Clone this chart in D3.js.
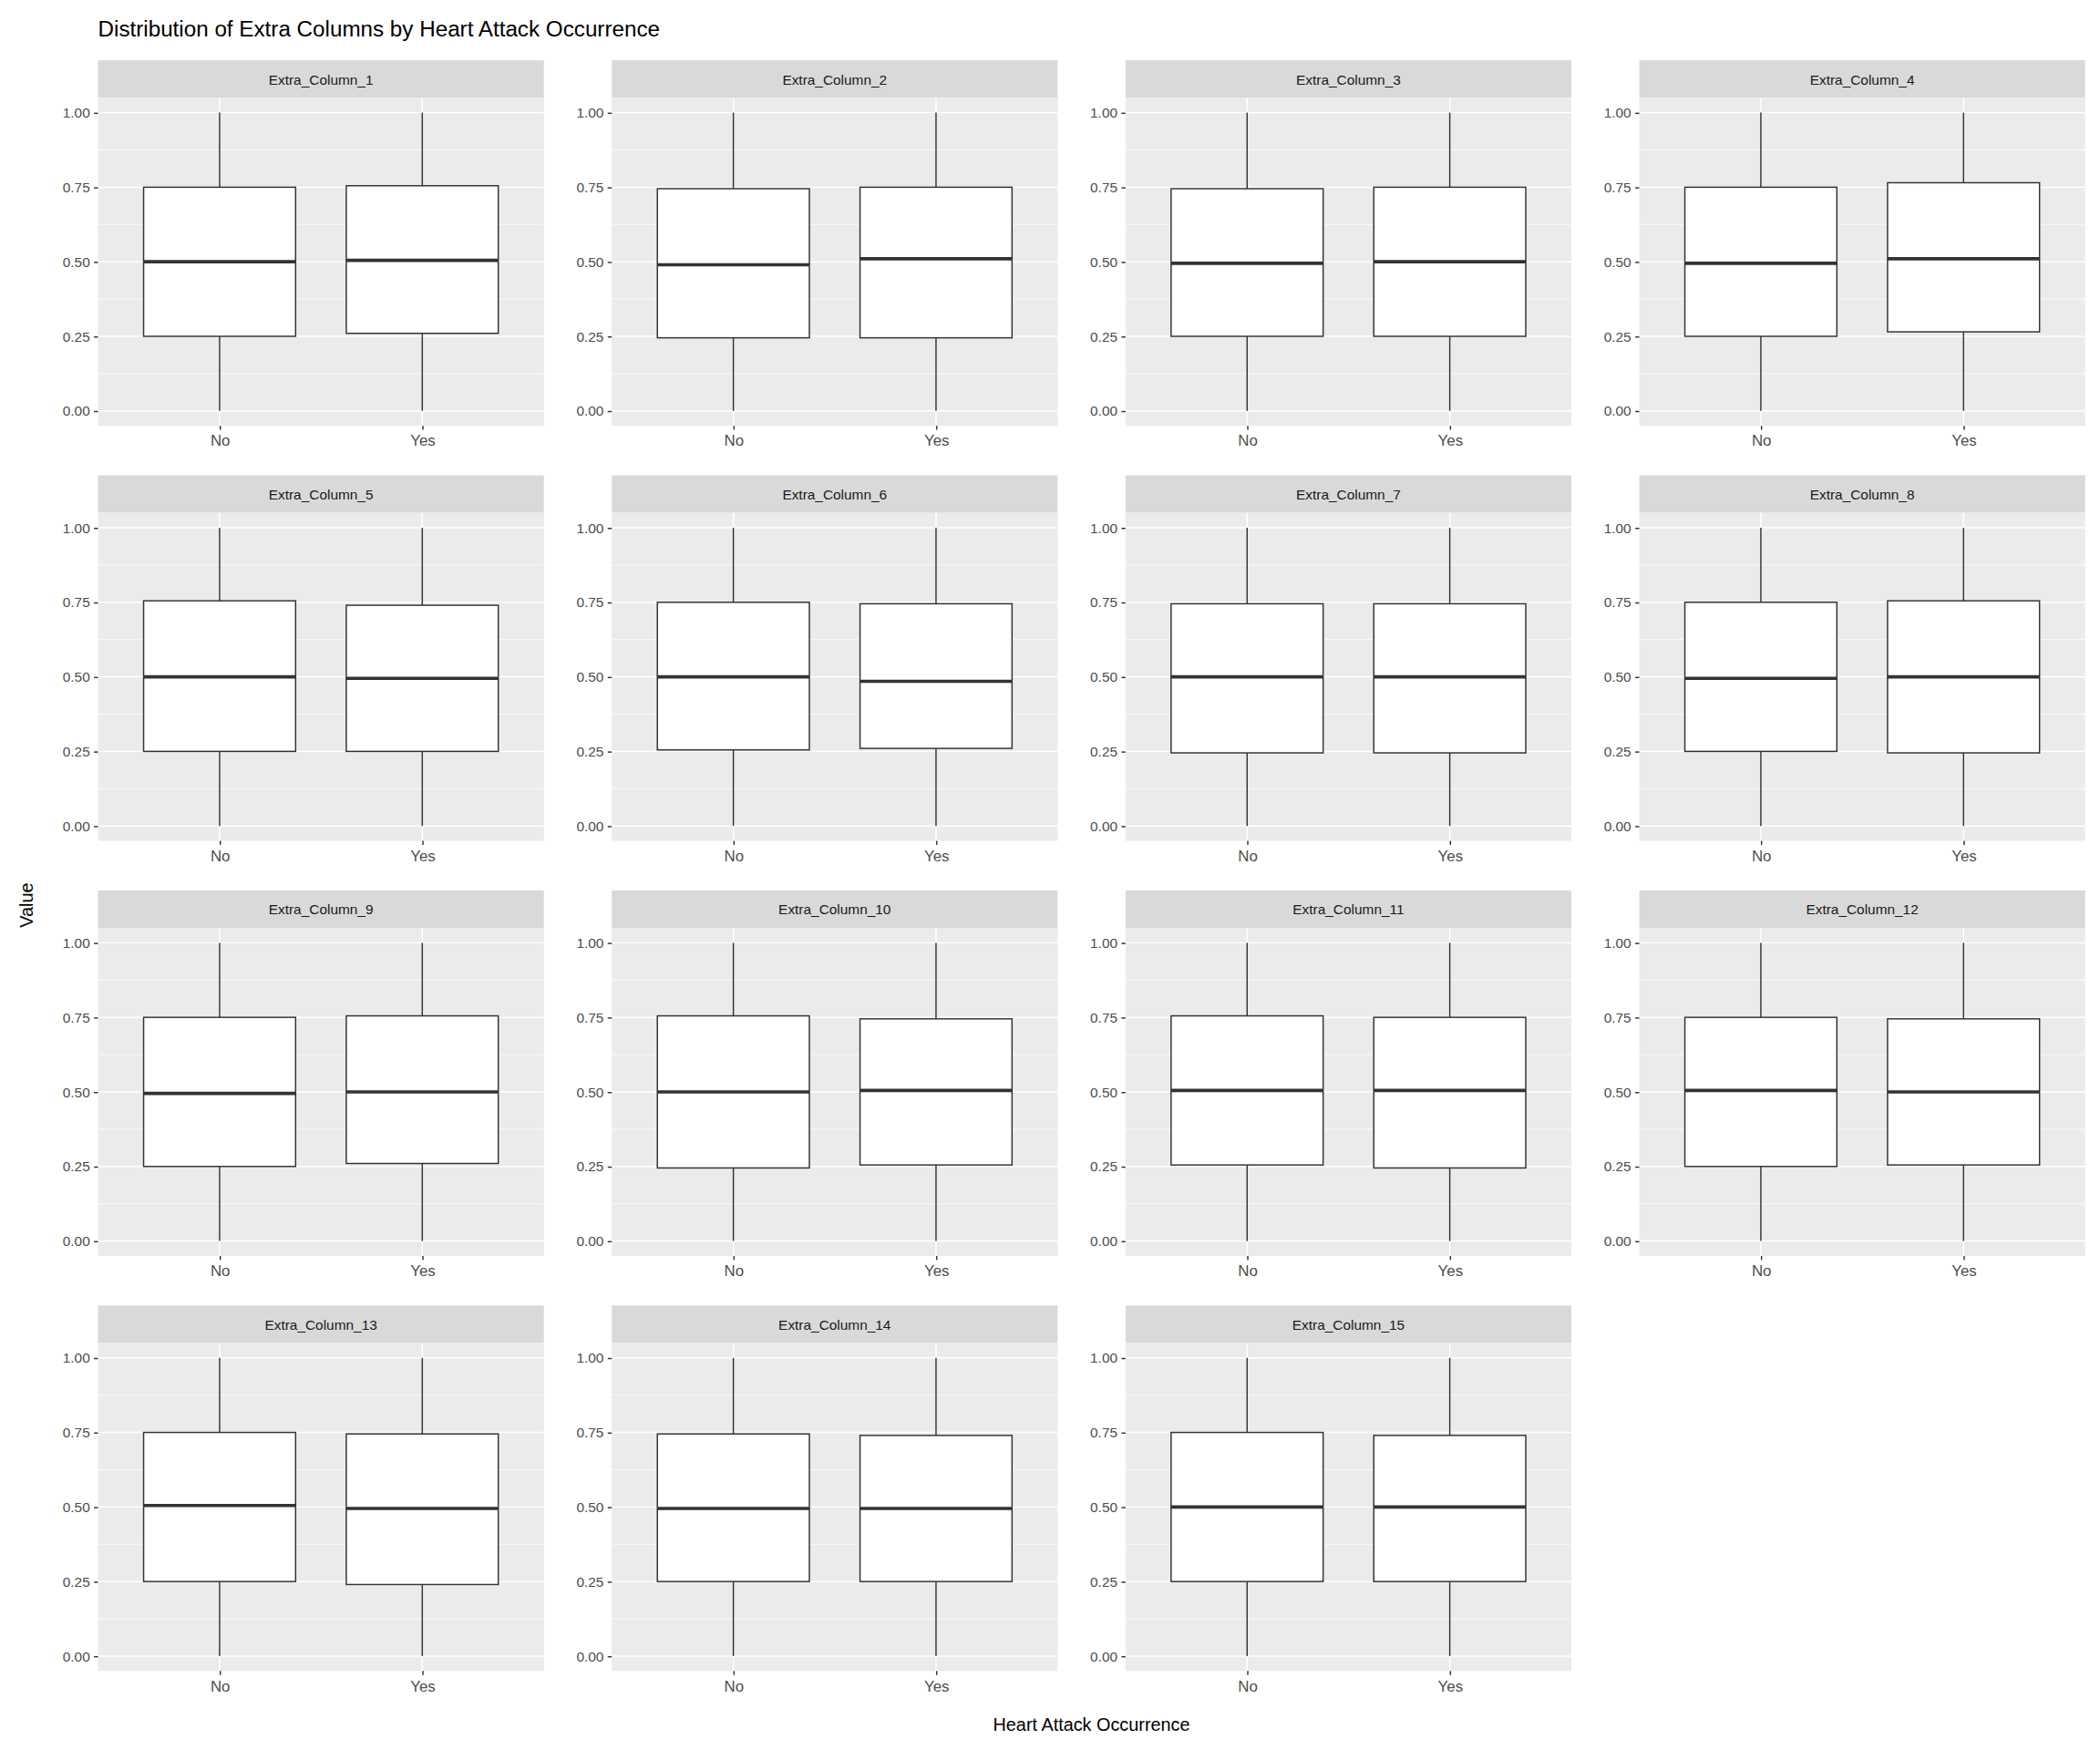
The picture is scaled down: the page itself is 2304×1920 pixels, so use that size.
<!DOCTYPE html>
<html>
<head>
<meta charset="UTF-8">
<script src="https://d3js.org/d3.v7.min.js"></script>
<style>body{margin:0;background:#fff} text{font-family:"Liberation Sans",Arial,sans-serif}</style>
</head>
<body>
<svg class="chart"></svg>
<script>
const panels = d3.range(1, 16).map(i => "Extra_Column_" + i);
const groups = ["No", "Yes"];
const yTicks = [0, 0.25, 0.5, 0.75, 1];
// [q1, median, q3] for No and Yes per panel; whiskers run 0 to 1
const noStats = [[.25,.50,.75],[.245,.49,.745],[.25,.495,.745],[.25,.495,.75],[.25,.50,.755],
  [.255,.50,.75],[.245,.50,.745],[.25,.495,.75],[.25,.495,.75],[.245,.50,.755],
  [.255,.505,.755],[.25,.505,.75],[.25,.505,.75],[.25,.495,.745],[.25,.50,.75]];
const yesStats = [[.26,.505,.755],[.245,.51,.75],[.25,.50,.75],[.265,.51,.765],[.25,.495,.74],
  [.26,.485,.745],[.245,.50,.745],[.245,.50,.755],[.26,.50,.755],[.255,.505,.745],
  [.245,.505,.75],[.255,.50,.745],[.24,.495,.745],[.25,.495,.74],[.25,.50,.74]];
const whiskerLo = 0, whiskerHi = 1;

const W = 1568, H = 1307;
const svg = d3.select(".chart").attr("width", 2304).attr("height", 1920)
  .attr("viewBox", `0 0 ${W} ${H}`);
svg.append("rect").attr("width", W).attr("height", H).attr("fill", "#fff");

const pw = 333, ph = 245, colPitch = 383.7, rowPitch = 310, left0 = 73, top0 = 73, stripH = 28;

svg.append("text").attr("x", 73).attr("y", 27).attr("font-size", 16.5).text("Distribution of Extra Columns by Heart Attack Occurrence");
svg.append("text").attr("x", 815).attr("y", 1293).attr("text-anchor", "middle").attr("font-size", 13.5).text("Heart Attack Occurrence");
svg.append("text").attr("transform", "translate(24,676)rotate(-90)").attr("text-anchor", "middle").attr("font-size", 13.5).text("Value");

const y = d3.scaleLinear().domain([-0.05, 1.05]).range([ph, 0]);
const x = d3.scaleLinear().domain([0.4, 2.6]).range([0, pw]);
const bw = (x(1.75) - x(1)) ;

panels.forEach((name, i) => {
  const c = i % 4, r = Math.floor(i / 4);
  const g = svg.append("g").attr("transform", `translate(${left0 + c * colPitch},${top0 + r * rowPitch})`);
  g.append("rect").attr("y", -stripH).attr("width", pw).attr("height", stripH).attr("fill", "#d9d9d9");
  g.append("text").attr("x", pw / 2).attr("y", -stripH / 2 + 4).attr("text-anchor", "middle")
    .attr("font-size", 10.5).attr("fill", "#1a1a1a").text(name);
  g.append("rect").attr("width", pw).attr("height", ph).attr("fill", "#ebebeb");
  const minor = [0.125, 0.375, 0.625, 0.875];
  minor.forEach(v => g.append("line").attr("x1", 0).attr("x2", pw).attr("y1", y(v)).attr("y2", y(v)).attr("stroke", "#fff").attr("stroke-width", 0.5));
  yTicks.forEach(v => g.append("line").attr("x1", 0).attr("x2", pw).attr("y1", y(v)).attr("y2", y(v)).attr("stroke", "#fff").attr("stroke-width", 1));
  groups.forEach((gr, k) => g.append("line").attr("x1", x(k + 1)).attr("x2", x(k + 1)).attr("y1", 0).attr("y2", ph).attr("stroke", "#fff").attr("stroke-width", 1));

  [noStats[i], yesStats[i]].forEach((s, k) => {
    const cx = x(k + 1);
    g.append("line").attr("x1", cx).attr("x2", cx).attr("y1", y(whiskerHi)).attr("y2", y(s[2])).attr("stroke", "#333").attr("stroke-width", 1);
    g.append("line").attr("x1", cx).attr("x2", cx).attr("y1", y(s[0])).attr("y2", y(whiskerLo)).attr("stroke", "#333").attr("stroke-width", 1);
    g.append("rect").attr("x", cx - bw / 2).attr("width", bw).attr("y", y(s[2])).attr("height", y(s[0]) - y(s[2]))
      .attr("fill", "#fff").attr("stroke", "#333").attr("stroke-width", 1);
    g.append("line").attr("x1", cx - bw / 2).attr("x2", cx + bw / 2).attr("y1", y(s[1])).attr("y2", y(s[1])).attr("stroke", "#333").attr("stroke-width", 2.5);
  });

  const ya = g.append("g").call(d3.axisLeft(y).tickValues(yTicks).tickFormat(d3.format(".2f")).tickSize(3).tickPadding(3));
  const xa = g.append("g").attr("transform", `translate(0,${ph})`)
    .call(d3.axisBottom(x).tickValues([1, 2]).tickFormat((d) => groups[d - 1]).tickSize(3).tickPadding(4));
  [ya, xa].forEach(a => {
    a.select(".domain").remove();
    a.selectAll("line").attr("stroke", "#333");
    a.selectAll("text").attr("fill", "#4d4d4d").attr("font-size", 10.5).style("font-family", "Liberation Sans, Arial, sans-serif");
  });
  xa.selectAll("text").attr("font-size", 11.5);
});
</script>
</body>
</html>
